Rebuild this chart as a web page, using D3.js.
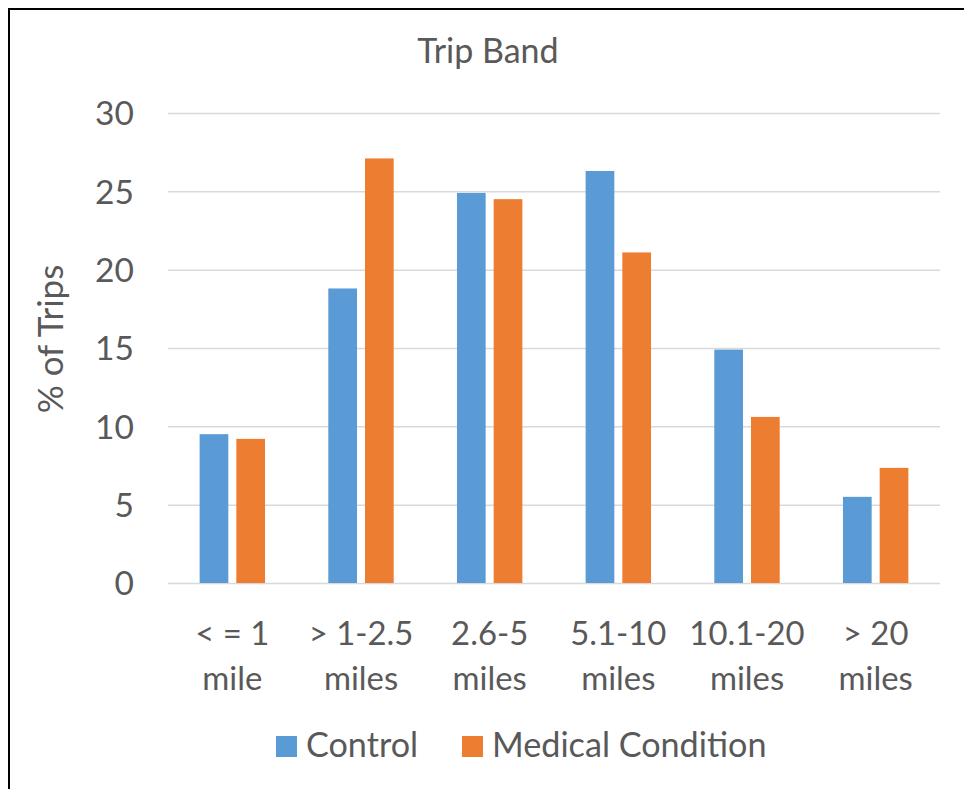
<!DOCTYPE html>
<html>
<head>
<meta charset="utf-8">
<script src="https://cdn.jsdelivr.net/npm/d3@7"></script>
<style>
  html, body { margin: 0; padding: 0; background: #fff; }
  svg { display: block; }
</style>
</head>
<body>
<svg id="chart" width="964" height="789"></svg>
<script>
const categories = [["< = 1", "mile"], ["> 1-2.5", "miles"], ["2.6-5", "miles"], ["5.1-10", "miles"], ["10.1-20", "miles"], ["> 20", "miles"]];
const seriesNames = ["Control", "Medical Condition"];
const controlValues = [9.5, 18.8, 24.9, 26.3, 14.9, 5.5];
const medicalValues = [9.2, 27.1, 24.5, 21.1, 10.6, 7.35];
const yTicks = [0, 5, 10, 15, 20, 25, 30];
const colors = ["#5B9BD5", "#ED7D31"];
const titleText = "Trip Band";
const yTitle = "% of Trips";

const FONT = "Lato, 'Open Sans', sans-serif";
const TEXT = "#595959";

const svg = d3.select("#chart");

// measure font to approximate Calibri widths
const probe = svg.append("text").attr("font-family", FONT).attr("font-size", 36).text("Medical Condition");
const w = probe.node().getComputedTextLength();
probe.remove();
const FS = 36 * 264 / w;

const margin = { left: 168, right: 940, top: 113, bottom: 583 };

const x0 = d3.scaleBand().domain(d3.range(categories.length)).range([margin.left, margin.right]).paddingInner(0).paddingOuter(0);
const x1 = d3.scaleBand().domain(d3.range(seriesNames.length)).range([0, x0.bandwidth()]).paddingInner(0.218).paddingOuter(0.862);
const y = d3.scaleLinear().domain([0, 30]).range([margin.bottom, margin.top]);

// frame
svg.append("path").attr("d", "M9,789 L9,9 L964,9").attr("fill", "none").attr("stroke", "#000").attr("stroke-width", 2);

// gridlines via axis
const yAxis = d3.axisLeft(y).tickValues(yTicks).tickSize(-(margin.right - margin.left)).tickPadding(34).tickFormat(d3.format("d"));
const gy = svg.append("g").attr("transform", `translate(${margin.left},0)`).call(yAxis);
gy.select(".domain").remove();
gy.selectAll(".tick line").attr("stroke", "#D9D9D9").attr("stroke-width", 1.5);
gy.selectAll(".tick text").attr("fill", TEXT).attr("font-family", FONT).attr("font-size", FS * 1.02).attr("dy", "0.35em");

// bars
const data = categories.map((c, i) => ({ i, vals: [controlValues[i], medicalValues[i]] }));
const groups = svg.append("g").selectAll("g").data(data).join("g")
  .attr("transform", d => `translate(${x0(d.i)},0)`);
groups.selectAll("rect").data(d => d.vals.map((v, s) => ({ v, s }))).join("rect")
  .attr("x", d => x1(d.s))
  .attr("width", x1.bandwidth())
  .attr("y", d => y(d.v))
  .attr("height", d => y(0) - y(d.v))
  .attr("fill", d => colors[d.s]);

// category labels
const xl = svg.append("g");
categories.forEach((c, i) => {
  const cx = x0(i) + x0.bandwidth() / 2;
  const t = xl.append("text").attr("text-anchor", "middle").attr("fill", TEXT)
    .attr("font-family", FONT).attr("font-size", FS)
    .attr("x", cx).attr("y", 645);
  t.append("tspan").attr("x", cx).text(c[0]);
  t.append("tspan").attr("x", cx).attr("dy", 45).text(c[1]);
});

// title
svg.append("text").attr("x", 488).attr("y", 63).attr("text-anchor", "middle")
  .attr("fill", TEXT).attr("font-family", FONT).attr("font-size", FS * 1.035).text(titleText);

// y title
svg.append("text").attr("transform", "translate(63,339) rotate(-90)").attr("text-anchor", "middle")
  .attr("fill", TEXT).attr("font-family", FONT).attr("font-size", FS * 1.065).text(yTitle);

// legend
const legendX = [276, 462];
const lg = svg.append("g");
seriesNames.forEach((s, i) => {
  lg.append("rect").attr("x", legendX[i]).attr("y", 736).attr("width", 21).attr("height", 21).attr("fill", colors[i]);
  lg.append("text").attr("x", legendX[i] + 30).attr("y", 757).attr("fill", TEXT)
    .attr("font-family", FONT).attr("font-size", FS * 1.04).text(s);
});
</script>
</body>
</html>
